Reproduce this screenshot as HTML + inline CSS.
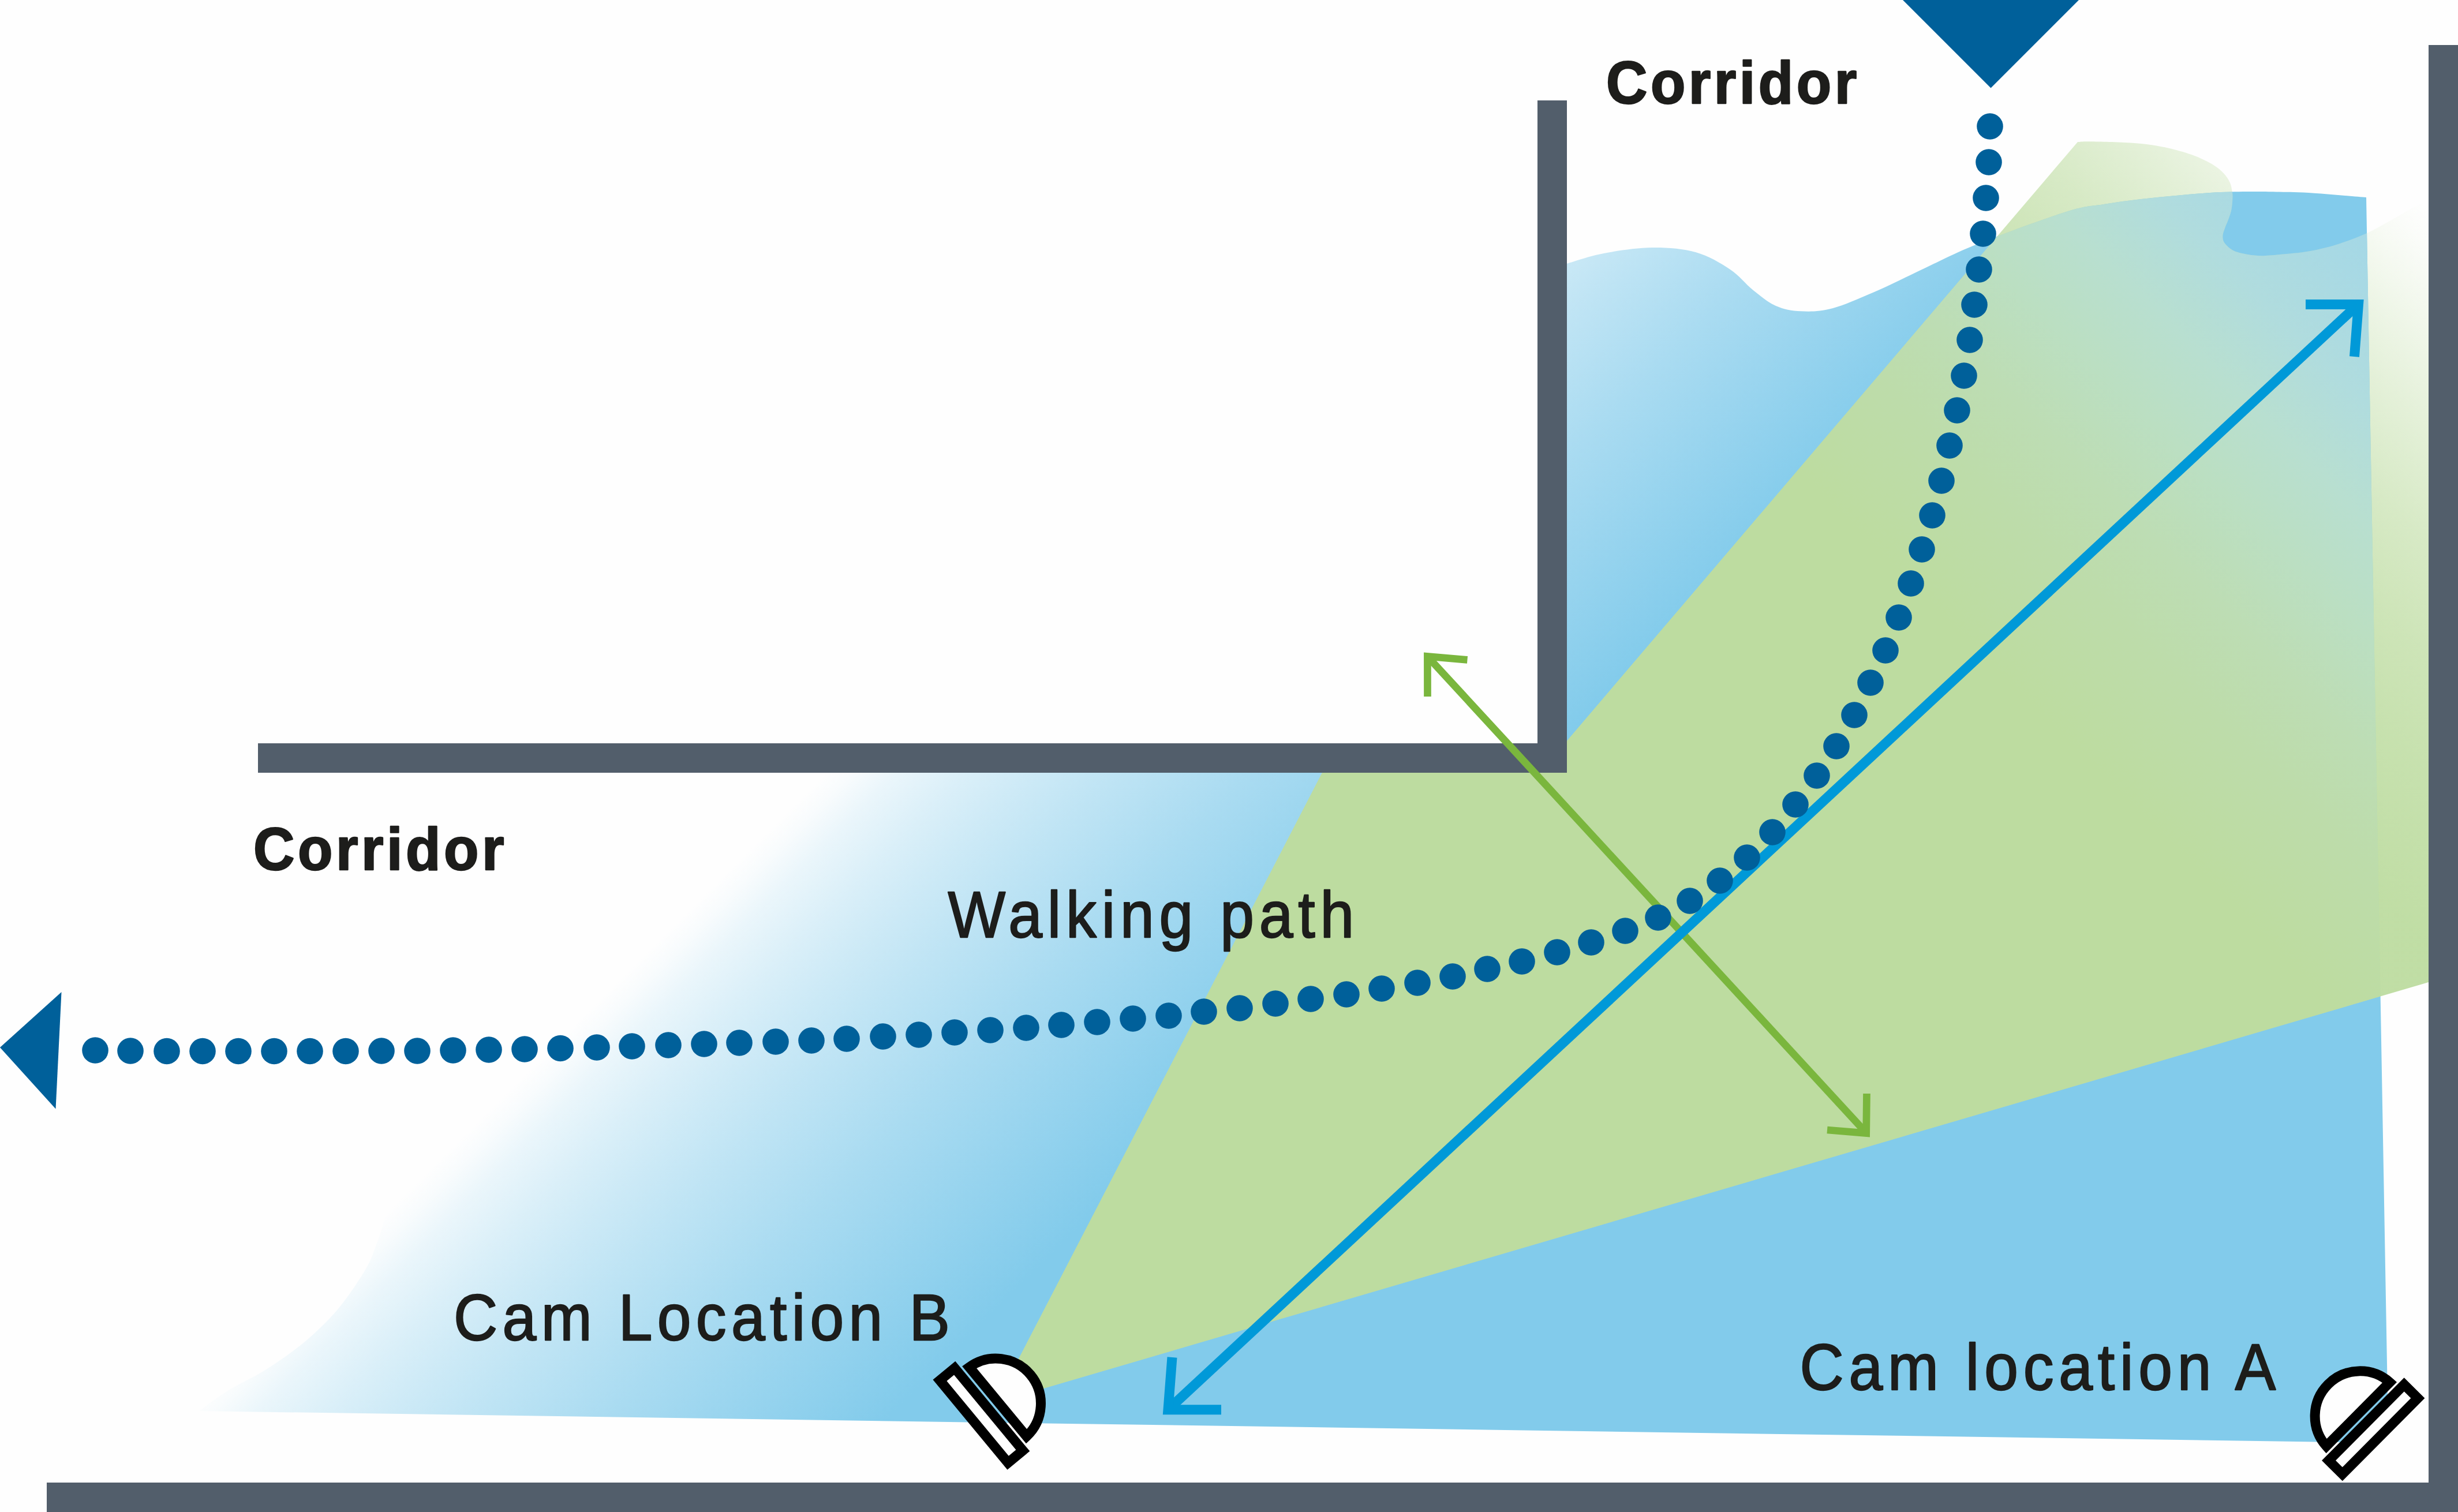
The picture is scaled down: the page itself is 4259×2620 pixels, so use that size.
<!DOCTYPE html>
<html><head><meta charset="utf-8"><style>
html,body{margin:0;padding:0;background:#fefefe;}
svg{display:block;}
text{font-family:"Liberation Sans",sans-serif;fill:#1d1d1b;}
</style></head><body>
<svg width="4259" height="2620" viewBox="0 0 4259 2620">
<defs>
<linearGradient id="gb" gradientUnits="userSpaceOnUse" x1="1385" y1="1385" x2="1997.5" y2="1997.5">
<stop offset="0" stop-color="#82cbeb" stop-opacity="0"/>
<stop offset="0.04" stop-color="#82cbeb" stop-opacity="0.05"/>
<stop offset="0.1" stop-color="#82cbeb" stop-opacity="0.16"/>
<stop offset="0.2" stop-color="#82cbeb" stop-opacity="0.29"/>
<stop offset="0.3" stop-color="#82cbeb" stop-opacity="0.40"/>
<stop offset="0.4" stop-color="#82cbeb" stop-opacity="0.50"/>
<stop offset="0.5" stop-color="#82cbeb" stop-opacity="0.59"/>
<stop offset="0.6" stop-color="#82cbeb" stop-opacity="0.68"/>
<stop offset="0.7" stop-color="#82cbeb" stop-opacity="0.76"/>
<stop offset="0.8" stop-color="#82cbeb" stop-opacity="0.84"/>
<stop offset="0.9" stop-color="#82cbeb" stop-opacity="0.92"/>
<stop offset="1" stop-color="#82cbeb" stop-opacity="1"/>
</linearGradient>
<linearGradient id="gg" gradientUnits="userSpaceOnUse" x1="2585" y1="15" x2="3225" y2="-625"><stop offset="0.0000" stop-color="#bddca0" stop-opacity="0.950"/><stop offset="0.2328" stop-color="#bddca0" stop-opacity="0.850"/><stop offset="0.3875" stop-color="#bddca0" stop-opacity="0.750"/><stop offset="0.5430" stop-color="#bddca0" stop-opacity="0.600"/><stop offset="0.6977" stop-color="#bddca0" stop-opacity="0.400"/><stop offset="0.8531" stop-color="#bddca0" stop-opacity="0.175"/><stop offset="0.9453" stop-color="#bddca0" stop-opacity="0.050"/><stop offset="1.0000" stop-color="#bddca0" stop-opacity="0.000"/></linearGradient>
<linearGradient id="gg2" gradientUnits="userSpaceOnUse" x1="2450" y1="150" x2="3200" y2="-600"><stop offset="0.0000" stop-color="rgb(189,220,160)"/><stop offset="0.2000" stop-color="rgb(189,220,170)"/><stop offset="0.3333" stop-color="rgb(189,221,180)"/><stop offset="0.4667" stop-color="rgb(187,223,194)"/><stop offset="0.6000" stop-color="rgb(184,223,208)"/><stop offset="0.7333" stop-color="rgb(176,220,222)"/><stop offset="0.8667" stop-color="rgb(168,217,228)"/><stop offset="1.0000" stop-color="rgb(160,214,232)"/></linearGradient>
</defs>
<rect width="4259" height="2620" fill="#fefefe"/>
<path d="M345 2445 L4120 2500 L4137 2420 L4100 342 C4083.3 340.7 4026.0 335.6 4000.0 334.0 C3974.0 332.4 3960.7 332.7 3944.0 332.4 C3927.3 332.1 3917.3 331.9 3900.0 332.0 C3882.7 332.1 3861.2 332.2 3840.4 333.3 C3819.6 334.4 3797.0 336.6 3775.3 338.5 C3753.6 340.4 3731.7 342.4 3710.0 345.0 C3688.3 347.6 3666.7 350.3 3645.0 354.0 C3623.3 357.7 3616.5 355.5 3580.0 367.0 C3543.5 378.5 3466.8 406.7 3426.0 423.0 C3385.2 439.3 3363.3 451.5 3334.9 464.7 C3306.5 477.9 3282.0 490.8 3255.5 502.4 C3229.0 513.9 3198.5 527.9 3176.0 534.0 C3153.5 540.1 3137.1 540.0 3120.6 539.3 C3104.1 538.6 3090.9 536.1 3077.0 530.0 C3063.1 523.9 3050.5 512.9 3037.3 502.4 C3024.1 491.8 3014.2 477.6 2997.6 466.7 C2981.0 455.8 2960.5 443.3 2938.0 437.0 C2915.5 430.7 2889.2 428.7 2862.7 429.0 C2836.2 429.3 2803.6 434.3 2779.0 438.9 C2754.4 443.5 2725.7 453.7 2715.0 456.7 L2715 1339 L1000 1339 L690 2000 C686.3 2017.5 674.8 2077.5 668.0 2105.0 C661.2 2132.5 654.8 2149.2 649.0 2165.0 C643.2 2180.8 640.9 2186.2 633.0 2200.0 C625.1 2213.8 612.1 2233.3 601.6 2247.6 C591.1 2261.9 583.3 2272.0 570.0 2285.7 C556.7 2299.4 540.5 2315.2 522.0 2330.0 C503.4 2344.8 479.9 2361.3 458.7 2374.6 C437.5 2387.9 413.9 2397.9 395.0 2409.6 C376.1 2421.3 353.3 2439.1 345.0 2445.0 Z" fill="url(#gb)"/>
<clipPath id="cb"><path d="M345 2445 L4120 2500 L4137 2420 L4100 342 C4083.3 340.7 4026.0 335.6 4000.0 334.0 C3974.0 332.4 3960.7 332.7 3944.0 332.4 C3927.3 332.1 3917.3 331.9 3900.0 332.0 C3882.7 332.1 3861.2 332.2 3840.4 333.3 C3819.6 334.4 3797.0 336.6 3775.3 338.5 C3753.6 340.4 3731.7 342.4 3710.0 345.0 C3688.3 347.6 3666.7 350.3 3645.0 354.0 C3623.3 357.7 3616.5 355.5 3580.0 367.0 C3543.5 378.5 3466.8 406.7 3426.0 423.0 C3385.2 439.3 3363.3 451.5 3334.9 464.7 C3306.5 477.9 3282.0 490.8 3255.5 502.4 C3229.0 513.9 3198.5 527.9 3176.0 534.0 C3153.5 540.1 3137.1 540.0 3120.6 539.3 C3104.1 538.6 3090.9 536.1 3077.0 530.0 C3063.1 523.9 3050.5 512.9 3037.3 502.4 C3024.1 491.8 3014.2 477.6 2997.6 466.7 C2981.0 455.8 2960.5 443.3 2938.0 437.0 C2915.5 430.7 2889.2 428.7 2862.7 429.0 C2836.2 429.3 2803.6 434.3 2779.0 438.9 C2754.4 443.5 2725.7 453.7 2715.0 456.7 L2715 1339 L1000 1339 L690 2000 C686.3 2017.5 674.8 2077.5 668.0 2105.0 C661.2 2132.5 654.8 2149.2 649.0 2165.0 C643.2 2180.8 640.9 2186.2 633.0 2200.0 C625.1 2213.8 612.1 2233.3 601.6 2247.6 C591.1 2261.9 583.3 2272.0 570.0 2285.7 C556.7 2299.4 540.5 2315.2 522.0 2330.0 C503.4 2344.8 479.9 2361.3 458.7 2374.6 C437.5 2387.9 413.9 2397.9 395.0 2409.6 C376.1 2421.3 353.3 2439.1 345.0 2445.0 Z"/></clipPath>
<path d="M1726 2430 L2291 1339 L2715 1339 L2715 1284 L3600 246 C3602.8 245.9 3608.2 245.2 3616.5 245.2 C3624.8 245.2 3637.4 245.4 3650.0 245.8 C3662.6 246.2 3678.9 246.7 3692.0 247.6 C3705.1 248.5 3716.7 249.5 3728.4 251.2 C3740.1 252.9 3750.2 254.8 3762.3 257.8 C3774.5 260.9 3789.4 265.0 3801.3 269.5 C3813.2 274.0 3825.2 279.8 3833.9 285.0 C3842.6 290.2 3848.4 295.5 3853.4 300.7 C3858.4 305.9 3861.4 311.1 3863.8 316.3 C3866.2 321.5 3866.9 327.4 3867.7 332.0 C3868.5 336.6 3868.6 338.5 3868.4 343.7 C3868.2 348.9 3867.6 357.1 3866.4 363.2 C3865.2 369.2 3863.1 374.7 3861.2 380.0 C3859.3 385.3 3856.8 390.1 3855.2 395.0 C3853.5 399.9 3851.3 404.9 3851.3 409.4 C3851.3 413.9 3851.9 417.8 3855.2 422.0 C3858.5 426.2 3864.4 431.6 3871.0 434.8 C3877.6 438.0 3887.1 439.6 3895.0 441.0 C3902.9 442.4 3909.4 443.2 3918.7 443.2 C3927.9 443.2 3936.9 442.3 3950.5 441.0 C3964.1 439.7 3983.4 438.4 4000.0 435.5 C4016.6 432.6 4033.3 428.7 4050.0 423.5 C4066.7 418.3 4085.9 410.7 4100.0 404.5 C4114.1 398.3 4121.8 393.4 4134.6 386.3 C4147.4 379.2 4164.8 368.6 4177.0 362.0 C4189.2 355.4 4202.8 349.3 4208.0 346.8 L4208 1702 Z" fill="url(#gg)"/>
<path d="M1726 2430 L2291 1339 L2715 1339 L2715 1284 L3600 246 C3602.8 245.9 3608.2 245.2 3616.5 245.2 C3624.8 245.2 3637.4 245.4 3650.0 245.8 C3662.6 246.2 3678.9 246.7 3692.0 247.6 C3705.1 248.5 3716.7 249.5 3728.4 251.2 C3740.1 252.9 3750.2 254.8 3762.3 257.8 C3774.5 260.9 3789.4 265.0 3801.3 269.5 C3813.2 274.0 3825.2 279.8 3833.9 285.0 C3842.6 290.2 3848.4 295.5 3853.4 300.7 C3858.4 305.9 3861.4 311.1 3863.8 316.3 C3866.2 321.5 3866.9 327.4 3867.7 332.0 C3868.5 336.6 3868.6 338.5 3868.4 343.7 C3868.2 348.9 3867.6 357.1 3866.4 363.2 C3865.2 369.2 3863.1 374.7 3861.2 380.0 C3859.3 385.3 3856.8 390.1 3855.2 395.0 C3853.5 399.9 3851.3 404.9 3851.3 409.4 C3851.3 413.9 3851.9 417.8 3855.2 422.0 C3858.5 426.2 3864.4 431.6 3871.0 434.8 C3877.6 438.0 3887.1 439.6 3895.0 441.0 C3902.9 442.4 3909.4 443.2 3918.7 443.2 C3927.9 443.2 3936.9 442.3 3950.5 441.0 C3964.1 439.7 3983.4 438.4 4000.0 435.5 C4016.6 432.6 4033.3 428.7 4050.0 423.5 C4066.7 418.3 4085.9 410.7 4100.0 404.5 C4114.1 398.3 4121.8 393.4 4134.6 386.3 C4147.4 379.2 4164.8 368.6 4177.0 362.0 C4189.2 355.4 4202.8 349.3 4208.0 346.8 L4208 1702 Z" fill="url(#gg2)" clip-path="url(#cb)"/>
<g fill="#525e6b">
<rect x="81" y="2569" width="4178" height="51"/>
<rect x="4208" y="78" width="51" height="2542"/>
<rect x="2664" y="174" width="51" height="1165"/>
<rect x="447" y="1288" width="2268" height="51"/>
</g>
<g fill="none" stroke="#7ab63d" stroke-width="12.7" stroke-linejoin="miter" stroke-miterlimit="10">
<line x1="2478" y1="1142.5" x2="3229" y2="1958"/>
<polyline points="2542.5,1143.4 2473.4,1137.4 2473.5,1207"/>
<polyline points="3166,1958 3233.7,1963.5 3234.5,1895"/>
</g>
<g fill="none" stroke="#0099d8" stroke-width="17" stroke-linejoin="miter" stroke-miterlimit="10">
<line x1="2030" y1="2437" x2="4080" y2="533"/>
<polyline points="2116,2442.8 2024,2442.8 2031,2352"/>
<polyline points="3995,527.5 4086.5,527.5 4079.5,618"/>
</g>
<g fill="#00609a">
<circle cx="3448" cy="219" r="22.8"/><circle cx="3446" cy="281" r="22.8"/><circle cx="3441" cy="343" r="22.8"/><circle cx="3436" cy="405" r="22.8"/><circle cx="3429" cy="467" r="22.8"/><circle cx="3421" cy="528" r="22.8"/><circle cx="3413" cy="589" r="22.8"/><circle cx="3403" cy="651" r="22.8"/><circle cx="3391" cy="711" r="22.8"/><circle cx="3378" cy="772" r="22.8"/><circle cx="3364" cy="833" r="22.8"/><circle cx="3348" cy="893" r="22.8"/><circle cx="3330" cy="952" r="22.8"/><circle cx="3311" cy="1011" r="22.8"/><circle cx="3290" cy="1070" r="22.8"/><circle cx="3267" cy="1127" r="22.8"/><circle cx="3241" cy="1183" r="22.8"/><circle cx="3213" cy="1239" r="22.8"/><circle cx="3182" cy="1293" r="22.8"/><circle cx="3148" cy="1344" r="22.8"/><circle cx="3111" cy="1394" r="22.8"/><circle cx="3071" cy="1442" r="22.8"/><circle cx="3027" cy="1486" r="22.8"/><circle cx="2980" cy="1526" r="22.8"/><circle cx="2928" cy="1561" r="22.8"/><circle cx="2873" cy="1590" r="22.8"/><circle cx="2816" cy="1613" r="22.8"/><circle cx="2757" cy="1633" r="22.8"/><circle cx="2698" cy="1650" r="22.8"/><circle cx="2637" cy="1666" r="22.8"/><circle cx="2577" cy="1679" r="22.8"/><circle cx="2517" cy="1692" r="22.8"/><circle cx="2456" cy="1703" r="22.8"/><circle cx="2394" cy="1713" r="22.8"/><circle cx="2333" cy="1723" r="22.8"/><circle cx="2271" cy="1731" r="22.8"/><circle cx="2210" cy="1739" r="22.8"/><circle cx="2148" cy="1747" r="22.8"/><circle cx="2086" cy="1753" r="22.8"/><circle cx="2025" cy="1760" r="22.8"/><circle cx="1963" cy="1765" r="22.8"/><circle cx="1901" cy="1771" r="22.8"/><circle cx="1839" cy="1776" r="22.8"/><circle cx="1778" cy="1781" r="22.8"/><circle cx="1716" cy="1785" r="22.8"/><circle cx="1654" cy="1789" r="22.8"/><circle cx="1592" cy="1793" r="22.8"/><circle cx="1530" cy="1796" r="22.8"/><circle cx="1467" cy="1800" r="22.8"/><circle cx="1406" cy="1803" r="22.8"/><circle cx="1344" cy="1805" r="22.8"/><circle cx="1281" cy="1807" r="22.8"/><circle cx="1220" cy="1809" r="22.8"/><circle cx="1158" cy="1811" r="22.8"/><circle cx="1095" cy="1813" r="22.8"/><circle cx="1034" cy="1815" r="22.8"/><circle cx="971" cy="1816.5" r="22.8"/><circle cx="909" cy="1818" r="22.8"/><circle cx="847" cy="1819" r="22.8"/><circle cx="785" cy="1820" r="22.8"/><circle cx="723" cy="1821" r="22.8"/><circle cx="661" cy="1821" r="22.8"/><circle cx="599" cy="1821.5" r="22.8"/><circle cx="537" cy="1821.5" r="22.8"/><circle cx="475" cy="1821.5" r="22.8"/><circle cx="413" cy="1821.5" r="22.8"/><circle cx="351" cy="1821.5" r="22.8"/><circle cx="289" cy="1821.5" r="22.8"/><circle cx="226" cy="1821" r="22.8"/><circle cx="165" cy="1820" r="22.8"/>
<polygon points="3295,-2 3604,-2 3449.5,152.6"/>
<polygon points="0,1815 106.5,1719 96.5,1921.5"/>
</g>
<g transform="translate(1700.4 2452.7) rotate(50.4)" fill="#fefefe" stroke="#000" stroke-width="17" stroke-linejoin="miter"><rect x="-92.7" y="-16.7" width="185.4" height="33.4"/><path d="M-77.86 -37.2 A78 78 0 0 1 77.86 -37.2 Z"/></g>
<g transform="translate(4112.2 2476.8) rotate(-45.2)" fill="#fefefe" stroke="#000" stroke-width="17" stroke-linejoin="miter"><rect x="-92.7" y="-16.7" width="185.4" height="33.4"/><path d="M-77.86 -37.2 A78 78 0 0 1 77.86 -37.2 Z"/></g>
<text transform="translate(2783 178.5) scale(0.96 1)" x="0" y="0" font-size="103" font-weight="bold" stroke="#1d1d1b" stroke-width="2.5" stroke-linejoin="round" textLength="452.3" lengthAdjust="spacing">Corridor</text>
<text transform="translate(439 1506.5) scale(0.96 1)" x="0" y="0" font-size="103" font-weight="bold" stroke="#1d1d1b" stroke-width="2.5" stroke-linejoin="round" textLength="452.6" lengthAdjust="spacing">Corridor</text>
<text transform="translate(1642.6 1623.5) scale(0.93 1)" x="0" y="0" font-size="113.5" stroke="#1d1d1b" stroke-width="2.4" stroke-linejoin="round" textLength="756.6" lengthAdjust="spacing">Walking path</text>
<text transform="translate(786 2322) scale(0.93 1)" x="0" y="0" font-size="113.5" stroke="#1d1d1b" stroke-width="2.4" stroke-linejoin="round" textLength="924.5" lengthAdjust="spacing">Cam Location B</text>
<text transform="translate(3118.4 2408) scale(0.93 1)" x="0" y="0" font-size="113.5" stroke="#1d1d1b" stroke-width="2.4" stroke-linejoin="round" textLength="886.7" lengthAdjust="spacing">Cam location A</text>
</svg>
</body></html>
